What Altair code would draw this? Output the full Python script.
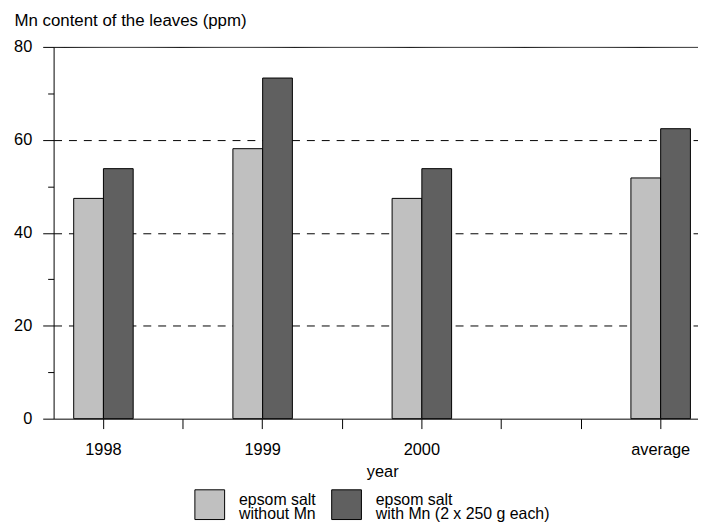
import altair as alt
import pandas as pd

years = ["1998", "1999", "2000", "average"]
x_slots = ["1998", "g1", "1999", "g2", "2000", "g3", "g4", "average"]
treatments = ["epsom salt|without Mn", "epsom salt|with Mn (2 x 250 g each)"]
without_mn = [47.4, 58.1, 47.4, 51.8]
with_mn = [53.8, 73.3, 53.8, 62.4]
colors = ["#c0c0c0", "#606060"]

rows = []
for y, a, b in zip(years, without_mn, with_mn):
    rows.append({"year": y, "treatment": treatments[0], "value": a})
    rows.append({"year": y, "treatment": treatments[1], "value": b})
df = pd.DataFrame(rows)

FONT = "Liberation Sans"

chart = alt.Chart(df).mark_bar(stroke="black", strokeWidth=1).encode(
    x=alt.X(
        "year:N",
        scale=alt.Scale(domain=x_slots, paddingInner=0, paddingOuter=0.126, range=[0, 662.6]),
        axis=alt.Axis(
            title="year",
            titleX=331.5,
            labelAngle=0,
            labelExpr="indexof(['1998','1999','2000','average'], datum.value) >= 0 ? datum.value : ''",
            tickSize=10,
            labelPadding=13,
            titlePadding=6,
            domainColor="black",
            tickColor="black",
            labelColor="black",
            titleColor="black",
            labelFontSize=16.5,
            titleFontSize=16.5,
            titleFontWeight="normal",
            grid=False,
        ),
    ),
    xOffset=alt.XOffset(
        "treatment:N",
        sort=treatments,
        scale=alt.Scale(domain=treatments, paddingInner=0, paddingOuter=0.338),
    ),
    y=alt.Y(
        "value:Q",
        scale=alt.Scale(domain=[0, 80], nice=False),
        axis=alt.Axis(
            title="Mn content of the leaves (ppm)",
            titleAngle=0,
            titleAlign="left",
            titleBaseline="alphabetic",
            titleX=-40,
            titleY=-22,
            titleFontSize=17,
            titleFontWeight="normal",
            titleColor="black",
            values=[0, 10, 20, 30, 40, 50, 60, 70, 80],
            labelExpr="datum.value % 20 == 0 ? datum.value : ''",
            tickSize={"condition": {"test": "datum.value % 20 == 0", "value": 11}, "value": 6},
            labelPadding=11,
            labelFontSize=16.5,
            labelColor="black",
            domainColor="black",
            tickColor="black",
            grid=True,
            gridColor="black",
            gridDash={"condition": {"test": "datum.value == 80", "value": [1, 0]}, "value": [8, 7]},
            gridWidth=1,
            gridOpacity={"condition": {"test": "datum.value == 20 || datum.value == 40 || datum.value == 60 || datum.value == 80", "value": 1}, "value": 0},
        ),
    ),
    color=alt.Color(
        "treatment:N",
        sort=treatments,
        scale=alt.Scale(domain=treatments, range=colors),
        legend=alt.Legend(
            title=None,
            orient="none",
            legendX=142,
            legendY=446,
            direction="horizontal",
            symbolType="square",
            symbolSize=900,
            symbolStrokeColor="black",
            symbolStrokeWidth=1,
            symbolOpacity=1,
            labelExpr="split(datum.label, '|')",
            labelBaseline="alphabetic",
            labelFontSize=16,
            labelLimit=0,
            labelOffset=14,
            columnPadding=13,
            padding=0,
            labelColor="black",
        ),
    ),
).properties(
    width=650,
    height=375,
    autosize=alt.AutoSizeParams(type="none"),
    padding={"left": 46, "top": 37, "right": 0, "bottom": 103},
).configure(
    font=FONT,
    style={"guide-label": {"lineHeight": 14}},
).configure_view(
    stroke=None,
)

chart.save("out.html", embed_options={"renderer": "svg", "actions": False})
